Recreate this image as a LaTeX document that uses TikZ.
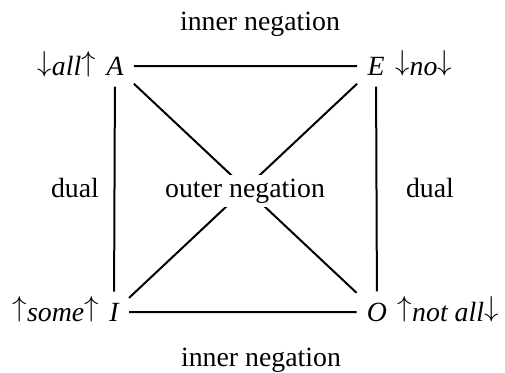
\documentclass[tikz,border=0pt]{standalone}
\usepackage{fontspec}
\setmainfont{Liberation Serif}
\usetikzlibrary{positioning,backgrounds}
\newcommand{\sqsize}{\fontsize{13.9}{16}\selectfont}
\newcommand{\up}{\raisebox{0.15em}{\(\uparrow\)}}
\newcommand{\dn}{\raisebox{0.15em}{\(\downarrow\)}}
\tikzset{
  corner/.style={inner xsep=5pt,inner ysep=5.5pt,font=\sqsize\itshape},
  quant/.style={inner sep=0pt},
  side/.style={line width=1pt}
}
\begin{document}
\begin{tikzpicture}[x=0.5pt,y=-0.5pt,every node/.style={font=\sqsize}]
\useasboundingbox (0,0) rectangle (505,372);
\node[corner] (A) at (115,66) {A};
\node[corner] (E) at (376,66) {E};
\node[corner] (I) at (114,312) {I};
\node[corner] (O) at (377,312) {O};
\node[quant,base left=0pt of A] (qA) {\dn\textit{all}\up};
\node[quant,base right=0pt of E] (qE) {\dn\textit{no}\dn};
\node[quant,base left=0pt of I] (qI) {\up\textit{some}\up};
\node[quant,base right=0pt of O] (qO) {\up\textit{not all}\dn};
\node[anchor=base] (innerTop) at (260,30) {inner negation};
\node[anchor=base] (innerBot) at (261,366) {inner negation};
\node[anchor=base] (dualL) at (75,197) {dual};
\node[anchor=base] (dualR) at (430,197) {dual};
\node[anchor=base,fill=white,inner sep=2pt] (outer) at (245,197) {outer negation};
\draw[side] (A) -- (E) -- (O) -- (I) -- (A);
\begin{scope}[on background layer]
\draw[side] (A) -- (O) (E) -- (I);
\end{scope}
\end{tikzpicture}
\end{document}
